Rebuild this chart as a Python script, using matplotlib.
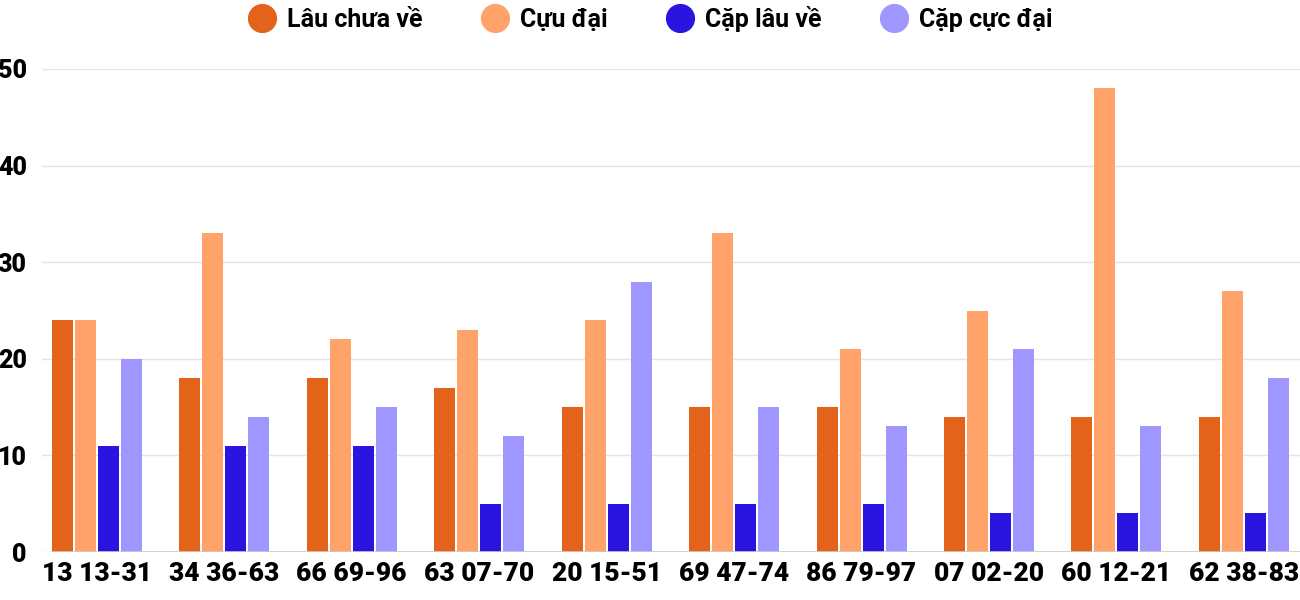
import matplotlib
matplotlib.use("Agg")
import matplotlib.pyplot as plt
from matplotlib.lines import Line2D
import numpy as np

categories = ["13 13-31", "34 36-63", "66 69-96", "63 07-70", "20 15-51",
              "69 47-74", "86 79-97", "07 02-20", "60 12-21", "62 38-83"]
series_names = ["Lâu chưa về", "Cựu đại", "Cặp lâu về", "Cặp cực đại"]
lau_chua_ve = [24, 18, 18, 17, 15, 15, 15, 14, 14, 14]
cuu_dai = [24, 33, 22, 23, 24, 33, 21, 25, 48, 27]
cap_lau_ve = [11, 11, 11, 5, 5, 5, 5, 4, 4, 4]
cap_cuc_dai = [20, 14, 15, 12, 28, 15, 13, 21, 13, 18]
colors = ["#E4631A", "#FFA36A", "#2914E0", "#A096FF"]

plt.rcParams['font.family'] = ['Roboto', 'DejaVu Sans']

fig = plt.figure(figsize=(13, 6), dpi=100)
ax = fig.add_axes([42/1300, 48/600, (1300-42)/1300, (552-69)/600])

data = [lau_chua_ve, cuu_dai, cap_lau_ve, cap_cuc_dai]
x = np.arange(len(categories))
step = 23/127.4
bw = 21/127.4
for i, vals in enumerate(data):
    ax.bar(x + (i - 1.5) * step, vals, width=bw, color=colors[i], zorder=3)

ax.set_xlim(-0.43, 9.44)
ax.set_ylim(0, 50)
ax.set_yticks([0, 10, 20, 30, 40, 50])
ax.set_xticks(x)
ax.set_xticklabels(categories)
for s in ax.spines.values():
    s.set_visible(False)
ax.grid(axis='y', color='#e4e4e4', linewidth=1, zorder=0)
ax.axhline(0, color='#cccccc', linewidth=1.2, zorder=4, xmin=10/1258)
ax.tick_params(axis='x', length=0, labelsize=19, pad=7)
ax.tick_params(axis='y', length=0, labelsize=18, pad=11)
for lab in ax.get_xticklabels() + ax.get_yticklabels():
    lab.set_fontweight('heavy')
    lab.set_color('black')

handles = [Line2D([0], [0], marker='o', linestyle='none', markersize=20,
                  markerfacecolor=c, markeredgecolor=c) for c in colors]
leg = fig.legend(handles, series_names, loc='center', bbox_to_anchor=(0.5, 1 - 19/600),
                 ncol=4, frameon=False, prop={'family': 'Roboto', 'weight': 'bold', 'size': 18},
                 handletextpad=0.4, columnspacing=2.3, handlelength=1.2)

fig.savefig("out.png", dpi=100)
